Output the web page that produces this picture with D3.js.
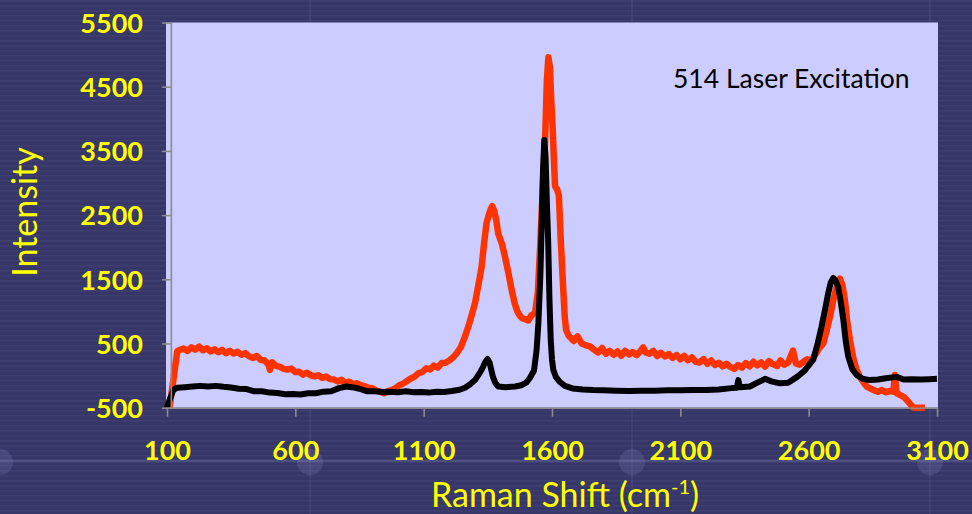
<!DOCTYPE html>
<html>
<head>
<meta charset="utf-8">
<script src="https://cdn.jsdelivr.net/npm/d3@7/dist/d3.min.js"></script>
<style>
  html, body { margin: 0; padding: 0; background: #363669; }
  svg { display: block; }
</style>
</head>
<body>
<svg id="chart" width="972" height="514"></svg>
<script>
// Raman spectrum, 514 nm excitation: two samples (red, black)
const xTicks = [100, 600, 1100, 1600, 2100, 2600, 3100];
const yTicks = [-500, 500, 1500, 2500, 3500, 4500, 5500];

const redShift = [
  110, 140, 150, 165, 180, 195, 210, 225, 240, 255, 270, 285, 300, 315, 330, 345, 360, 375, 390, 405,
  420, 435, 450, 465, 480, 495, 501, 510, 525, 540, 555, 570, 585, 600, 615, 630, 645, 660, 675, 690,
  705, 720, 735, 750, 765, 780, 795, 810, 825, 840, 855, 870, 885, 900, 915, 930, 945, 960, 975, 990,
  1005, 1020, 1035, 1050, 1065, 1080, 1095, 1110, 1125, 1140, 1155, 1170, 1185, 1200, 1215, 1230, 1245, 1260, 1275, 1290,
  1300, 1315, 1326, 1335, 1345, 1355, 1362, 1367, 1375, 1383, 1390, 1405, 1417, 1430, 1443, 1455, 1465, 1475, 1485, 1495,
  1508, 1520, 1534, 1545, 1555, 1565, 1573, 1580, 1586, 1592, 1598, 1603, 1608, 1612, 1620, 1627, 1634, 1644, 1650, 1655,
  1665, 1675, 1685, 1700, 1715, 1730, 1748, 1765, 1780, 1795, 1810, 1825, 1840, 1855, 1870, 1885, 1900, 1915, 1930, 1945,
  1955, 1965, 1980, 1995, 2010, 2025, 2040, 2055, 2070, 2085, 2100, 2115, 2130, 2145, 2160, 2175, 2190, 2205, 2220, 2235,
  2250, 2265, 2280, 2295, 2310, 2325, 2340, 2355, 2370, 2385, 2400, 2415, 2430, 2445, 2460, 2477, 2490, 2505, 2520, 2539,
  2550, 2565, 2580, 2595, 2610, 2625, 2640, 2657, 2670, 2685, 2696, 2710, 2722, 2732, 2741, 2750, 2761, 2775, 2787, 2800,
  2813, 2826, 2840, 2855, 2870, 2885, 2900, 2915, 2930, 2936, 2942, 2955, 2970, 2982, 2995, 3008, 3030, 3053
];
const redIntensity = [
  -500, 380, 400, 420, 385, 440, 405, 450, 395, 425, 375, 410, 365, 400, 350, 385, 345, 370, 325, 350,
  300, 275, 305, 245, 235, 175, 90, 205, 150, 135, 105, 95, 110, 55, 60, 15, 45, 5, -10, 5,
  -35, -15, -55, -60, -90, -65, -115, -95, -135, -120, -150, -165, -190, -195, -235, -250, -275, -245, -225, -195,
  -150, -125, -85, -45, -15, 40, 55, 115, 95, 155, 125, 195, 200, 235, 285, 355, 445, 600, 775, 985,
  1130, 1450, 1700, 2050, 2380, 2520, 2600, 2640, 2560, 2420, 2220, 2050, 1850, 1600, 1330, 1120, 1000, 930, 890, 880,
  860, 940, 975, 1300, 2100, 3000, 3670, 4600, 4960, 4800, 4200, 3830, 3300, 2950, 2900, 2800, 2120, 1330, 900, 710,
  620, 580, 540, 610, 500, 475, 455, 400, 360, 430, 340, 385, 325, 375, 310, 385, 330, 365, 320, 385,
  440, 360, 340, 385, 305, 355, 300, 335, 275, 320, 255, 305, 240, 285, 215, 205, 255, 185, 235, 165,
  200, 145, 185, 135, 105, 165, 125, 195, 145, 215, 160, 205, 140, 225, 180, 150, 235, 170, 205, 390,
  190, 170, 215, 255, 230, 320, 420, 500, 700, 950, 1180, 1400, 1510, 1400, 1180, 850, 550, 250, 90, -20,
  -100, -170, -200, -230, -250, -225, -260, -240, -250, 10, -270, -300, -330, -380, -440, -500, -500, -500
];

const blackShift = [
  100, 110, 125, 140, 170, 200, 230, 260, 290, 320, 350, 380, 410, 440, 470, 500, 530, 560, 590, 620,
  650, 680, 710, 740, 770, 800, 820, 850, 880, 910, 940, 970, 1000, 1030, 1060, 1090, 1120, 1150, 1180, 1210,
  1240, 1261, 1280, 1300, 1320, 1332, 1340, 1349, 1357, 1370, 1380, 1391, 1420, 1456, 1480, 1500, 1515, 1530, 1540, 1547,
  1555, 1560, 1565, 1570, 1575, 1580, 1585, 1590, 1595, 1600, 1605, 1615, 1631, 1650, 1680, 1720, 1760, 1800, 1850, 1900,
  1950, 2000, 2050, 2100, 2150, 2200, 2250, 2300, 2320, 2326, 2332, 2371, 2400, 2430, 2455, 2488, 2520, 2555, 2585, 2618,
  2635, 2650, 2665, 2676, 2686, 2696, 2705, 2715, 2725, 2735, 2745, 2754, 2770, 2787, 2810, 2839, 2870, 2900, 2943, 2970,
  3000, 3040, 3070, 3100
];
const blackIntensity = [
  -500, -380, -220, -190, -180, -170, -160, -170, -160, -175, -185, -205, -210, -245, -245, -265, -270, -290, -285, -295,
  -275, -275, -250, -245, -195, -170, -180, -205, -245, -245, -255, -250, -260, -245, -260, -255, -265, -250, -255, -240,
  -220, -190, -140, -70, 50, 140, 210, 260, 200, -20, -120, -170, -180, -170, -150, -110, -30, 80, 400, 820,
  1600, 2380, 3200, 3670, 3400, 2700, 2110, 1200, 555, 250, 90, -20, -100, -160, -200, -215, -225, -230, -235, -240,
  -235, -235, -230, -230, -225, -225, -215, -195, -190, -70, -180, -170, -110, -50, -90, -120, -110, -20, 80, 250,
  500, 760, 1050, 1280, 1450, 1520, 1480, 1380, 1150, 870, 520, 300, 100, 10, -50, -70, -60, -40, -20, -60,
  -55, -60, -55, -50
];

const W = 972, H = 514;
const plot = { left: 167, right: 937, top: 22.5, bottom: 407.7 };
const yAxisCrossing = 115;
const labelFont = "Lato, 'Open Sans', sans-serif";

const svg = d3.select("#chart");

// slide background
const bg = svg.append("g");
bg.append("rect").attr("width", W).attr("height", H).attr("fill", "#363669");
const defs = svg.append("defs");
const pat = defs.append("pattern").attr("id", "stripes").attr("width", 8).attr("height", 5)
  .attr("patternUnits", "userSpaceOnUse");
pat.append("rect").attr("width", 8).attr("height", 1.5).attr("fill", "rgba(255,255,255,0.035)");
bg.append("rect").attr("width", W).attr("height", H).attr("fill", "url(#stripes)");
bg.append("line").attr("x1", 0).attr("x2", W).attr("y1", 461).attr("y2", 461)
  .attr("stroke", "rgba(200,200,255,0.13)").attr("stroke-width", 3);
[310, 632, 930].forEach(cx => {
  bg.append("line").attr("x1", cx).attr("x2", cx).attr("y1", 0).attr("y2", H)
    .attr("stroke", "rgba(200,200,255,0.07)").attr("stroke-width", 2);
  bg.append("circle").attr("cx", cx).attr("cy", 462).attr("r", 13)
    .attr("fill", "rgba(200,200,255,0.12)");
});
bg.append("circle").attr("cx", 0).attr("cy", 462).attr("r", 13).attr("fill", "rgba(200,200,255,0.12)");

const x = d3.scaleLinear().domain([100, 3100]).range([plot.left, plot.right]);
const y = d3.scaleLinear().domain([-500, 5500]).range([plot.bottom, plot.top]);

// plot area
svg.append("rect")
  .attr("x", plot.left - 1).attr("y", plot.top)
  .attr("width", plot.right - plot.left + 2).attr("height", plot.bottom - plot.top)
  .attr("fill", "#CCCCFF");

// spectra
const line = d3.line().x(d => x(d[0])).y(d => y(d[1])).curve(d3.curveLinear);
const redData = redShift.map((s, i) => [s, redIntensity[i]]);
const blackData = blackShift.map((s, i) => [s, blackIntensity[i]]);

svg.append("path").datum(redData).attr("d", line)
  .attr("fill", "none").attr("stroke", "#FF3300").attr("stroke-width", 6.5)
  .attr("stroke-linejoin", "round").attr("stroke-linecap", "butt");
svg.append("path").datum(blackData).attr("d", line)
  .attr("fill", "none").attr("stroke", "#000000").attr("stroke-width", 6)
  .attr("stroke-linejoin", "round").attr("stroke-linecap", "butt");

// axes
const axisColor = "#8C8C8C";
const plainNumber = d => String(d);
const xAxis = svg.append("g").attr("transform", `translate(0,${plot.bottom})`)
  .call(d3.axisBottom(x).tickValues(xTicks).tickSize(9).tickSizeOuter(0).tickFormat(plainNumber));
const yAxis = svg.append("g").attr("transform", `translate(${x(yAxisCrossing)},0)`)
  .call(d3.axisLeft(y).tickValues(yTicks).tickSize(9).tickSizeOuter(0).tickFormat(plainNumber));

[xAxis, yAxis].forEach(g => {
  g.select(".domain").attr("stroke", axisColor).attr("stroke-width", 1.6);
  g.selectAll(".tick line").attr("stroke", axisColor).attr("stroke-width", 1.6);
  g.selectAll(".tick text")
    .attr("fill", "#FFFF00")
    .style("font-family", labelFont)
    .style("font-weight", "bold")
    .style("font-size", "27px");
});
xAxis.selectAll(".tick text").attr("y", 52).attr("dy", 0);
yAxis.selectAll(".tick text").attr("x", 143 - x(yAxisCrossing)).attr("dy", "0.36em");

// axis titles
svg.append("text")
  .attr("x", 565).attr("y", 507)
  .attr("text-anchor", "middle")
  .attr("fill", "#FFFF00")
  .style("font-family", labelFont)
  .style("font-size", "34px")
  .call(t => {
    t.append("tspan").text("Raman Shift (cm");
    t.append("tspan").attr("dy", -13).style("font-size", "20px").text("-1");
    t.append("tspan").attr("dy", 13).text(")");
  });

svg.append("text")
  .attr("transform", "translate(37,212) rotate(-90)")
  .attr("text-anchor", "middle")
  .attr("fill", "#FFFF00")
  .style("font-family", labelFont)
  .style("font-size", "34px")
  .text("Intensity");

// annotation
svg.append("text")
  .attr("x", 673).attr("y", 88)
  .attr("fill", "#000000")
  .style("font-family", labelFont)
  .style("font-size", "26.5px")
  .text("514 Laser Excitation");
</script>
</body>
</html>
